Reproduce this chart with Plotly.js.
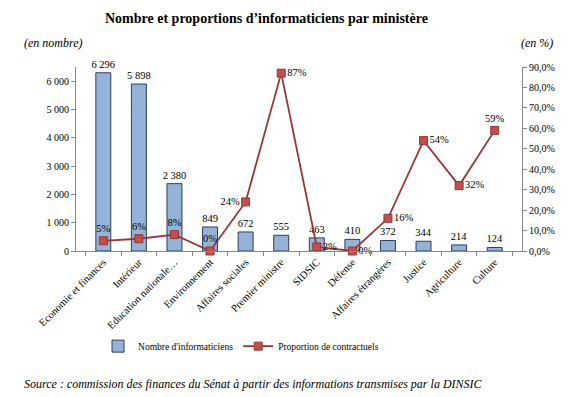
<!DOCTYPE html>
<html><head><meta charset="utf-8">
<script src="https://cdn.plot.ly/plotly-3.0.1.min.js"></script>
<style>body{margin:0;background:#fff}#c{width:574px;height:397px}</style>
</head><body><div id="c"></div>
<script>
const categories = ["Economie et finances","Intérieur","Education nationale…","Environnement","Affaires sociales","Premier ministre","SIDSIC","Défense","Affaires étrangères","Justice","Agriculture","Culture"];
const nombre = [6296,5898,2380,849,672,555,463,410,372,344,214,124];
const proportion = [5,6,8,0,24,87,2,0,16,54,32,59];
const propLabels = ["5%","6%","8%","0%","24%","87%","2%","0%","16%","54%","32%","59%"];
const propPos = ["top center","top center","top center","top center","middle left","middle right","middle right","middle right","middle right","middle right","middle right","top center"];

const serif = "Liberation Serif, DejaVu Serif, serif";
const traces = [
 {type:"bar", x:categories, y:nombre, name:"Nombre d'informaticiens",
  marker:{color:"#95b3d7", line:{color:"#2e3e5c", width:1}}, width:0.42,
  texttemplate:"%{y:,d}", textposition:"outside", cliponaxis:false, constraintext:"none",
  textfont:{family:serif,size:10.5,color:"#000"}, hoverinfo:"skip"},
 {type:"scatter", mode:"lines+markers+text", x:categories, y:proportion, yaxis:"y2",
  name:"Proportion de contractuels", text:propLabels, textposition:propPos,
  textfont:{family:serif,size:10.5,color:"#000"}, cliponaxis:false,
  line:{color:"#953735", width:1.8},
  marker:{symbol:"square", size:8, color:"#c0504d", line:{color:"#953735", width:1}}}
];
const layout = {
 width:574, height:397, paper_bgcolor:"#fff", plot_bgcolor:"#fff",
 margin:{l:76, r:52, t:67, b:146},
 separators:", ",
 showlegend:true,
 legend:{orientation:"h", x:0.37, xanchor:"center", y:-0.517, yanchor:"middle",
   font:{family:serif,size:9.5,color:"#000"}, traceorder:"normal"},
 font:{family:serif, color:"#000"},
 xaxis:{type:"category", tickson:"boundaries", ticks:"outside", ticklen:4, tickcolor:"#888",
   showline:true, linecolor:"#888", linewidth:1, tickangle:-45,
   tickfont:{family:serif,size:10.5,color:"#000"}, showgrid:false},
 yaxis:{range:[0,6500], tickvals:[0,1000,2000,3000,4000,5000,6000], tickformat:",d",
   showline:true, linecolor:"#888", ticks:"outside", ticklen:4, tickcolor:"#888",
   showgrid:false, zeroline:false, tickfont:{family:serif,size:10,color:"#000"}},
 yaxis2:{overlaying:"y", side:"right", range:[0,90], dtick:10, tickformat:".1f", ticksuffix:"%",
   showline:true, linecolor:"#888", ticks:"outside", ticklen:4, tickcolor:"#888",
   showgrid:false, zeroline:false, tickfont:{family:serif,size:10,color:"#000"}},
 annotations:[
  {xref:"paper", yref:"paper", x:(266-76)/446, y:(251-18)/184, xanchor:"center", yanchor:"middle",
   text:"<b>Nombre et proportions d’informaticiens par ministère</b>", showarrow:false,
   font:{family:serif,size:14,color:"#000"}},
  {xref:"paper", yref:"paper", x:(22-76)/446, y:(251-43)/184, xanchor:"left", yanchor:"middle",
   text:"<i>(en nombre)</i>", showarrow:false, font:{family:serif,size:12,color:"#000"}},
  {xref:"paper", yref:"paper", x:(555-76)/446, y:(251-43)/184, xanchor:"right", yanchor:"middle",
   text:"<i>(en %)</i>", showarrow:false, font:{family:serif,size:12,color:"#000"}},
  {xref:"paper", yref:"paper", x:(22-76)/446, y:(251-384)/184, xanchor:"left", yanchor:"middle",
   text:"<i>Source : commission des finances du Sénat à partir des informations transmises par la DINSIC</i>",
   showarrow:false, font:{family:serif,size:12,color:"#000"}}
 ]
};
Plotly.newPlot("c", traces, layout, {staticPlot:true});
</script></body></html>
